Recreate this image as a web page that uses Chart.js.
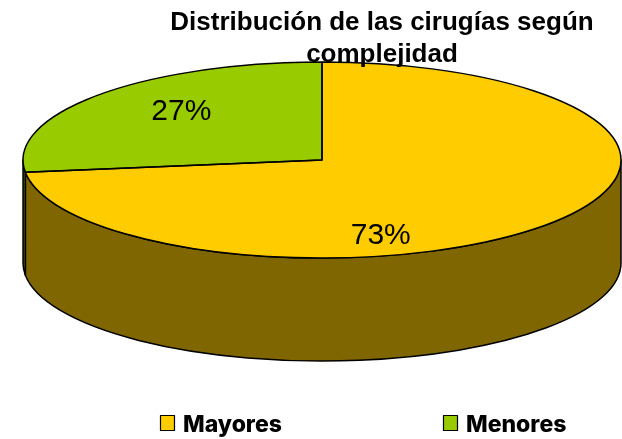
<!DOCTYPE html>
<html><head><meta charset="utf-8">
<script src="https://cdn.jsdelivr.net/npm/chart.js@4.4.0/dist/chart.umd.min.js"></script>
<style>html,body{margin:0;padding:0;background:#fff;}#wrap{width:622px;height:439px;position:relative;}</style>
</head><body><div id="wrap"><canvas id="c" width="622" height="439"></canvas></div>
<script>
const categories = ['Mayores', 'Menores'];
const values = [73, 27];
const sliceColors = ['#FFCC00', '#99CC00'];
const titleLines = ['Distribución de las cirugías según', 'complejidad'];

function darken(hex, f) {
  const n = parseInt(hex.slice(1), 16);
  const r = Math.round(((n >> 16) & 255) * f), g = Math.round(((n >> 8) & 255) * f), b = Math.round((n & 255) * f);
  return 'rgb(' + r + ',' + g + ',' + b + ')';
}

const pie3d = {
  id: 'pie3d',
  beforeDatasetsDraw(chart, args, o) {
    const ctx = chart.ctx;
    const arcs = chart.getDatasetMeta(0).data;
    if (!arcs.length) return;
    const ds = chart.data.datasets[0];
    // side walls (front half only)
    ctx.save();
    ctx.lineWidth = o.lineWidth;
    ctx.strokeStyle = '#000';
    ctx.lineJoin = 'round';
    arcs.forEach((a, i) => {
      for (let k = -1; k <= 1; k++) {
        const s = Math.max(a.startAngle + 2 * Math.PI * k, 0);
        const e = Math.min(a.endAngle + 2 * Math.PI * k, Math.PI);
        if (s < e) {
          ctx.beginPath();
          ctx.ellipse(o.cx, o.cy, o.rx, o.ry, 0, s, e, false);
          ctx.ellipse(o.cx, o.cy + o.depth, o.rx, o.ry, 0, e, s, true);
          ctx.closePath();
          ctx.fillStyle = darken(ds.backgroundColor[i], 0.5);
          ctx.fill();
          ctx.stroke();
        }
      }
    });
    ctx.restore();
    // map the library's circular pie onto the tilted ellipse
    const a0 = arcs[0];
    ctx.save();
    ctx.translate(o.cx, o.cy);
    ctx.scale(o.rx / a0.outerRadius, o.ry / a0.outerRadius);
    ctx.translate(-a0.x, -a0.y);
  },
  afterDatasetsDraw(chart, args, o) {
    const ctx = chart.ctx;
    const arcs = chart.getDatasetMeta(0).data;
    if (!arcs.length) return;
    ctx.restore();
    ctx.save();
    ctx.lineWidth = o.lineWidth;
    ctx.strokeStyle = '#000';
    ctx.lineJoin = 'round';
    arcs.forEach((a) => {
      ctx.beginPath();
      ctx.moveTo(o.cx, o.cy);
      ctx.ellipse(o.cx, o.cy, o.rx, o.ry, 0, a.startAngle, a.endAngle, false);
      ctx.closePath();
      ctx.stroke();
    });
    // percentage labels
    const total = values.reduce((s, v) => s + v, 0);
    ctx.fillStyle = '#000';
    ctx.font = o.labelFont;
    ctx.textAlign = 'center';
    ctx.textBaseline = 'middle';
    arcs.forEach((a, i) => {
      const m = (a.startAngle + a.endAngle) / 2;
      const f = o.labelRadial[i];
      const x = o.cx + Math.cos(m) * o.rx * f[0];
      const y = o.cy + Math.sin(m) * o.ry * f[1];
      ctx.fillText(Math.round(values[i] / total * 100) + '%', x, y);
    });
    // title
    ctx.font = o.titleFont;
    ctx.textBaseline = 'alphabetic';
    titleLines.forEach((t, i) => ctx.fillText(t, o.titleX, o.titleY[i]));
    // legend
    ctx.textAlign = 'left';
    ctx.font = o.legendFont;
    chart.data.labels.forEach((lab, i) => {
      const bx = o.legendX[i];
      ctx.fillStyle = chart.data.datasets[0].backgroundColor[i];
      ctx.fillRect(bx, o.legendY, 14, 15);
      ctx.lineWidth = 1.2;
      ctx.strokeRect(bx + 0.5, o.legendY + 0.5, 14, 15);
      ctx.fillStyle = '#000';
      ctx.fillText(lab, bx + 23, o.legendY + 17);
    });
    ctx.restore();
  }
};

new Chart(document.getElementById('c'), {
  type: 'pie',
  data: {
    labels: categories,
    datasets: [{
      data: values,
      backgroundColor: sliceColors,
      borderWidth: 0,
      clip: false
    }]
  },
  options: {
    responsive: false,
    animation: false,
    events: [],
    plugins: {
      legend: { display: false },
      title: { display: false },
      tooltip: { enabled: false },
      pie3d: {
        cx: 322, cy: 160, rx: 299, ry: 98, depth: 103,
        lineWidth: 1.5,
        labelFont: '30px "Liberation Sans", Arial, sans-serif',
        labelRadial: [[0.262, 1.173], [0.627, 0.741]],
        titleFont: 'bold 26px "Liberation Sans", Arial, sans-serif',
        titleX: 382, titleY: [30, 62],
        legendFont: '800 23px Inter, Lato, "DejaVu Sans", sans-serif',
        legendX: [160, 443], legendY: 415
      }
    }
  },
  plugins: [pie3d]
});
</script></body></html>
